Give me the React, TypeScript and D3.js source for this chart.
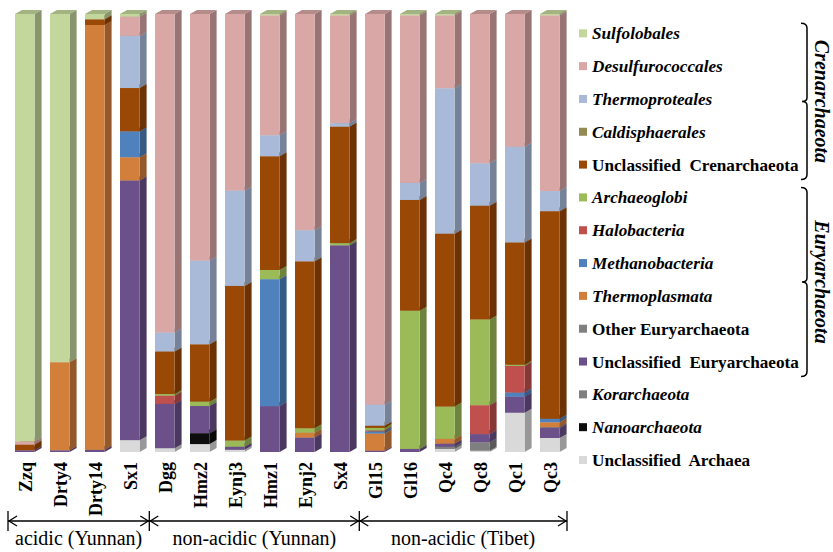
import React from 'react';
import * as d3 from 'd3';

// samples, left to right
const samples = ['Zzq', 'Drty4', 'Drty14', 'Sx1', 'Dgg', 'Hmz2', 'Eynj3', 'Hmz1', 'Eynj2', 'Sx4', 'Gl15', 'Gl16', 'Qc4', 'Qc8', 'Qc1', 'Qc3'];

// taxa in legend order (top of stack first)
const taxa = [
  'Sulfolobales', 'Desulfurococcales', 'Thermoproteales', 'Caldisphaerales', 'Unclassified  Crenarchaeota',
  'Archaeoglobi', 'Halobacteria', 'Methanobacteria', 'Thermoplasmata', 'Other Euryarchaeota',
  'Unclassified  Euryarchaeota', 'Korarchaeota', 'Nanoarchaeota', 'Unclassified  Archaea'
];
const italicTaxa = ['Sulfolobales', 'Desulfurococcales', 'Thermoproteales', 'Caldisphaerales', 'Archaeoglobi', 'Halobacteria', 'Methanobacteria', 'Thermoplasmata', 'Korarchaeota', 'Nanoarchaeota'];
const taxaColors = ['#c3d69b', '#d9a7a6', '#a8bad8', '#948a54', '#9a4806', '#9bbb59', '#c0504d', '#4f81bd', '#d27f3c', '#808080', '#6b5089', '#7f7f7f', '#0d0d0d', '#d9d9d9'];

// relative abundance (%) per taxon, one value per sample
const sulfolobales = [97.6, 79.5, 1.2, 0.6, 0, 0, 0, 0.3, 0, 0.3, 0, 0.3, 0.3, 0, 0, 0.3];
const desulfurococcales = [0.7, 0, 0, 4.4, 72.5, 56.3, 40.2, 27.4, 49.3, 24.6, 89.1, 38.3, 16.7, 34.1, 30.4, 40.2];
const thermoproteales = [0, 0, 0, 11.9, 4.3, 19.1, 21.7, 4.8, 7.1, 0.8, 4.8, 3.9, 33.3, 9.7, 21.9, 4.6];
const caldisphaerales = [0, 0, 0, 0, 0, 0, 0, 0, 0, 0, 0, 0, 0, 0, 0, 0];
const unclCren = [1.3, 0, 1.3, 9.9, 9.7, 13.1, 35.2, 26.0, 38.1, 26.6, 0.5, 25.3, 39.6, 26.0, 28.0, 47.5];
const archaeoglobi = [0, 0, 0, 0, 0.35, 1.0, 1.4, 2.1, 1.0, 0.5, 0.6, 31.6, 7.4, 19.6, 0.3, 0];
const halobacteria = [0, 0, 0, 0, 1.9, 0, 0, 0, 0, 0, 0.2, 0, 0, 6.6, 6.1, 0];
const methanobacteria = [0, 0, 0, 5.9, 0, 0, 0, 29.0, 0, 0, 0.5, 0, 0, 0, 0.9, 0.8];
const thermoplasmata = [0, 20.1, 97.0, 5.3, 0, 0, 0, 0, 1.1, 0, 3.9, 0, 1.1, 0, 0, 1.1];
const otherEury = [0, 0, 0, 0, 0, 0, 0, 0, 0, 0, 0, 0, 0, 0, 0, 0.2];
const unclEury = [0.4, 0.4, 0.5, 59.3, 10.1, 6.2, 0.7, 10.5, 3.3, 47.2, 0.3, 0.7, 0.7, 1.9, 3.7, 2.3];
const korarchaeota = [0, 0, 0, 0, 0, 0, 0, 0, 0, 0, 0, 0, 0.5, 1.9, 0, 0];
const nanoarchaeota = [0, 0, 0, 0, 0, 2.5, 0, 0, 0, 0, 0, 0, 0, 0, 0, 0];
const unclArchaea = [0, 0, 0, 2.7, 0.85, 1.8, 0.5, 0, 0, 0, 0, 0, 0.7, 0.3, 9.0, 3.2];

const seriesValues = [sulfolobales, desulfurococcales, thermoproteales, caldisphaerales, unclCren, archaeoglobi, halobacteria,
  methanobacteria, thermoplasmata, otherEury, unclEury, korarchaeota, nanoarchaeota, unclArchaea];

const groups = [
  { label: 'acidic (Yunnan)', from: 0, to: 4 },
  { label: 'non-acidic (Yunnan)', from: 4, to: 10 },
  { label: 'non-acidic (Tibet)', from: 10, to: 16 }
];
const phyla = [
  { label: 'Crenarchaeota', from: 0, to: 4 },
  { label: 'Euryarchaeota', from: 5, to: 10 }
];

const W = 833;
const H = 552;
const FONT = '"Liberation Serif", "Times New Roman", serif';
const DX = 7; // depth offset of the 3D bars
const DY = 4;

export default function App() {
  const rows = samples.map((s, i) => {
    const r: any = { sample: s };
    taxa.forEach((t, k) => { r[t] = seriesValues[k][i]; });
    return r;
  });

  const stacked = d3.stack<any>()
    .keys(taxa)
    .order(d3.stackOrderReverse)
    .offset(d3.stackOffsetExpand)(rows);

  const x = d3.scaleBand().domain(samples).range([3.45, 571.15]).paddingInner(0.44).paddingOuter(0.33);
  const y = d3.scaleLinear().domain([0, 1]).range([452, 14]);
  const bw = x.bandwidth();

  // draw bottom-up so each segment hides the top face of the one below
  const drawOrder = [...stacked].sort((a, b) => a.index - b.index);

  const legendY = d3.scaleLinear().domain([0, taxa.length - 1]).range([33.3, 460]);

  // group boundaries for the arrows under the axis labels
  const groupEdge = (i: number) => {
    if (i === 0) return 8;
    if (i === samples.length) return 567;
    const a = x(samples[i - 1])! + bw;
    const b = x(samples[i])!;
    return (a + b) / 2 + 2;
  };

  const arrowY = 521;

  return (
    <svg width={W} height={H} style={{ position: 'absolute', left: 0, top: 0, background: '#fff' }} fontFamily={FONT}>
      <rect width={W} height={H} fill="#fff" />
      {drawOrder.map(series => {
        const k = taxa.indexOf(series.key);
        const c = d3.color(taxaColors[k])!;
        const side = c.darker(1).formatHex();
        const top = c.darker(0.5).formatHex();
        return (
          <g key={series.key}>
            {series.map((d, i) => {
              if (d[1] - d[0] <= 0) return null;
              const x0 = x(samples[i])!;
              const yT = y(d[1]);
              const yB = y(d[0]);
              return (
                <g key={i}>
                  <path d={`M${x0},${yT}L${x0 + DX},${yT - DY}L${x0 + bw + DX},${yT - DY}L${x0 + bw},${yT}Z`} fill={top} />
                  <path d={`M${x0 + bw},${yT}L${x0 + bw + DX},${yT - DY}L${x0 + bw + DX},${yB - DY}L${x0 + bw},${yB}Z`} fill={side} />
                  <rect x={x0} y={yT} width={bw} height={yB - yT} fill={taxaColors[k]} />
                </g>
              );
            })}
          </g>
        );
      })}

      {/* sample labels */}
      {samples.map(s => (
        <text key={s} transform={`translate(${x(s)! + bw / 2 + 1},462) rotate(-90)`} textAnchor="end" dy="0.35em"
          fontSize={18} fontWeight="bold" fill="#000">{s}</text>
      ))}

      {/* group arrows */}
      <g stroke="#000" strokeWidth={1.3} fill="none">
        {groups.map(g => {
          const a = groupEdge(g.from);
          const b = groupEdge(g.to);
          return (
            <g key={g.label}>
              <line x1={a} x2={b} y1={arrowY} y2={arrowY} />
              <path d={`M${a + 9},${arrowY - 5}L${a + 1},${arrowY}L${a + 9},${arrowY + 5}`} />
              <path d={`M${b - 9},${arrowY - 5}L${b - 1},${arrowY}L${b - 9},${arrowY + 5}`} />
            </g>
          );
        })}
        {[0, 4, 10, 16].map(i => (
          <line key={i} x1={groupEdge(i)} x2={groupEdge(i)} y1={arrowY - 10} y2={arrowY + 10} />
        ))}
      </g>
      {groups.map(g => (
        <text key={g.label} x={(groupEdge(g.from) + groupEdge(g.to)) / 2} y={545} textAnchor="middle" fontSize={20} fill="#000">{g.label}</text>
      ))}

      {/* legend */}
      {taxa.map((t, k) => (
        <g key={t} transform={`translate(579,${legendY(k)})`}>
          <rect x={0} y={-4} width={8} height={8} fill={taxaColors[k]} />
          <text x={13} dy="0.35em" fontSize={17.2} fontWeight="bold" fontStyle={italicTaxa.includes(t) ? 'italic' : 'normal'}
            fill="#000" style={{ whiteSpace: 'pre' }}>{t}</text>
        </g>
      ))}

      {/* phylum brackets */}
      {phyla.map(p => {
        const y0 = legendY(p.from) - 10;
        const y1 = legendY(p.to) + 15;
        const ym = (y0 + y1) / 2;
        const bx = 807;
        return (
          <g key={p.label}>
            <path d={`M${bx - 6},${y0}Q${bx},${y0} ${bx},${y0 + 5}L${bx},${ym - 4}Q${bx},${ym} ${bx - 5},${ym}Q${bx},${ym} ${bx},${ym + 4}L${bx},${y1 - 5}Q${bx},${y1} ${bx - 6},${y1}`}
              fill="none" stroke="#000" strokeWidth={1.5} />
            <text transform={`translate(${bx + 15},${ym}) rotate(90)`} textAnchor="middle" dy="0.35em"
              fontSize={20} fontWeight="bold" fontStyle="italic" fill="#000">{p.label}</text>
          </g>
        );
      })}
    </svg>
  );
}
